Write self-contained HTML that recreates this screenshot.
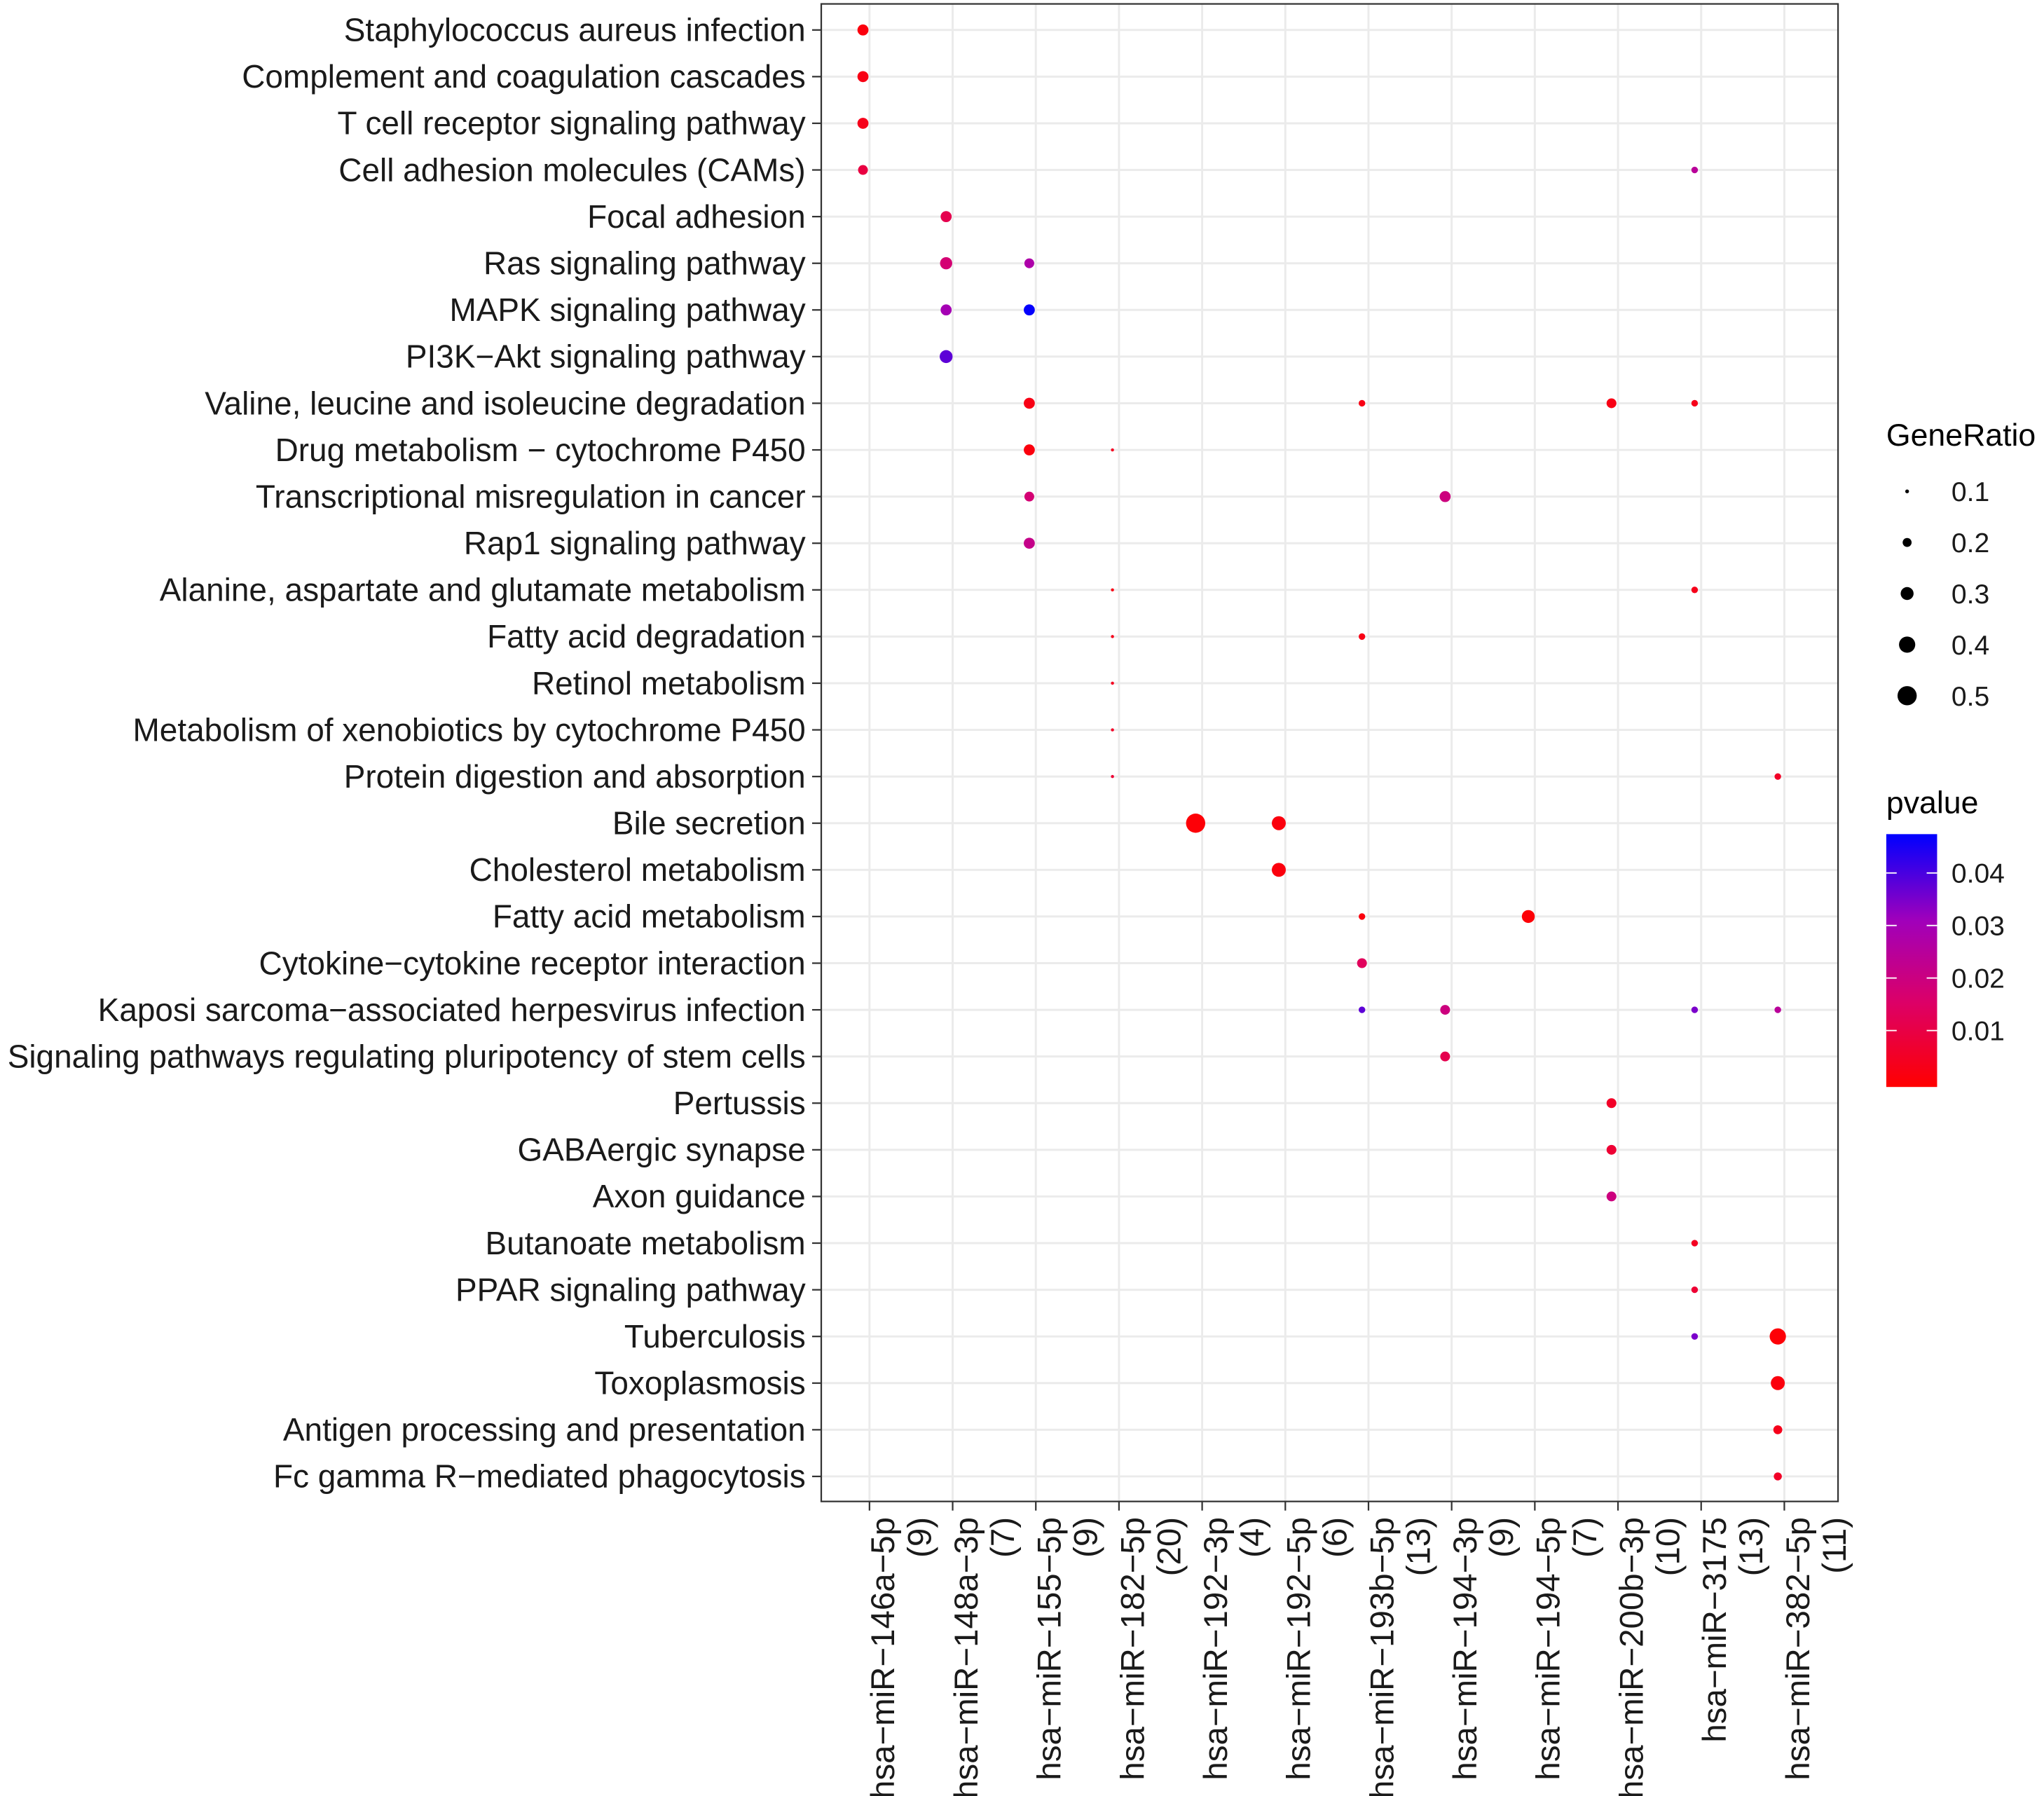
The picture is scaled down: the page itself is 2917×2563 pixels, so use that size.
<!DOCTYPE html>
<html><head><meta charset="utf-8"><style>
html,body{margin:0;padding:0;background:#fff;}
svg{display:block;font-family:"Liberation Sans",Arial,sans-serif;}
</style></head><body>
<svg id="chart" width="2917" height="2563" viewBox="0 0 1568 1378" preserveAspectRatio="none" xmlns="http://www.w3.org/2000/svg">
<rect x="0" y="0" width="1568" height="1378" fill="#fff"/>
<g id="grid"></g><g id="dots"></g>
<rect x="630" y="3" width="780" height="1149" fill="none" stroke="#333" stroke-width="1.2"/>
<g id="yaxis"></g><g id="xaxis"></g>
<g id="legend">
 <text x="1447" y="342" font-size="24">GeneRatio</text>
 <g id="sizeleg"></g>
 <text x="1447" y="624" font-size="24">pvalue</text>
 <defs><linearGradient id="pg" x1="0" y1="1" x2="0" y2="0">
  <stop offset="0" stop-color="#FF0000"/><stop offset="0.33" stop-color="#DD0066"/>
  <stop offset="0.66" stop-color="#A000BB"/><stop offset="1" stop-color="#0000FF"/></linearGradient></defs>
 <rect x="1447" y="640" width="39" height="194" fill="url(#pg)"/>
 <g id="colorleg"></g>
</g>
</svg>
<script>
const categories=["Staphylococcus aureus infection","Complement and coagulation cascades","T cell receptor signaling pathway","Cell adhesion molecules (CAMs)","Focal adhesion","Ras signaling pathway","MAPK signaling pathway","PI3K\u2212Akt signaling pathway","Valine, leucine and isoleucine degradation","Drug metabolism \u2212 cytochrome P450","Transcriptional misregulation in cancer","Rap1 signaling pathway","Alanine, aspartate and glutamate metabolism","Fatty acid degradation","Retinol metabolism","Metabolism of xenobiotics by cytochrome P450","Protein digestion and absorption","Bile secretion","Cholesterol metabolism","Fatty acid metabolism","Cytokine\u2212cytokine receptor interaction","Kaposi sarcoma\u2212associated herpesvirus infection","Signaling pathways regulating pluripotency of stem cells","Pertussis","GABAergic synapse","Axon guidance","Butanoate metabolism","PPAR signaling pathway","Tuberculosis","Toxoplasmosis","Antigen processing and presentation","Fc gamma R\u2212mediated phagocytosis"];
const mirnas=["hsa\u2212miR\u2212146a\u22125p","hsa\u2212miR\u2212148a\u22123p","hsa\u2212miR\u2212155\u22125p","hsa\u2212miR\u2212182\u22125p","hsa\u2212miR\u2212192\u22123p","hsa\u2212miR\u2212192\u22125p","hsa\u2212miR\u2212193b\u22125p","hsa\u2212miR\u2212194\u22123p","hsa\u2212miR\u2212194\u22125p","hsa\u2212miR\u2212200b\u22123p","hsa\u2212miR\u22123175","hsa\u2212miR\u2212382\u22125p"];
const counts=["(9)","(7)","(9)","(20)","(4)","(6)","(13)","(9)","(7)","(10)","(13)","(11)"];
const ptRow=[0,1,2,3,3,4,5,5,6,6,7,8,8,8,8,9,9,10,10,11,12,12,13,13,14,15,16,16,17,17,18,19,19,20,21,21,21,21,22,23,24,25,26,27,28,28,29,30,31];
const ptCol=[0,0,0,0,10,1,1,2,1,2,1,2,6,9,10,2,3,2,7,2,3,10,3,6,3,3,3,11,4,5,5,6,8,6,6,7,10,11,7,9,9,9,10,10,10,11,11,11,11];
const ptRatio=[0.25,0.25,0.25,0.22,0.15,0.25,0.28,0.22,0.25,0.25,0.3,0.25,0.15,0.22,0.15,0.25,0.07,0.22,0.25,0.25,0.07,0.15,0.07,0.15,0.07,0.07,0.06,0.15,0.5,0.33,0.33,0.15,0.3,0.22,0.15,0.22,0.15,0.15,0.22,0.22,0.22,0.22,0.15,0.15,0.15,0.4,0.33,0.2,0.18];
const ptP=[0.002,0.003,0.004,0.01,0.025,0.012,0.018,0.028,0.03,0.047,0.038,0.003,0.003,0.003,0.004,0.002,0.005,0.018,0.02,0.022,0.003,0.004,0.004,0.003,0.005,0.006,0.008,0.006,0.001,0.002,0.002,0.002,0.001,0.014,0.038,0.02,0.035,0.025,0.012,0.006,0.008,0.02,0.005,0.008,0.035,0.001,0.002,0.004,0.006];
const sizeTicks=[0.1,0.2,0.3,0.4,0.5];
const pTicks=[0.01,0.02,0.03,0.04];
const NS="http://www.w3.org/2000/svg";
const yPos=i=>23+i*35.8;
const xPos=j=>667+j*63.8;
const rScale=v=>Math.max(1.2,1.15*(13.2*Math.sqrt(v)-2.92));
const pY=p=>831-p/0.01*40.3;
const pMax=0.0474;
const stops=[[0,[255,0,0]],[0.33,[221,0,102]],[0.66,[160,0,187]],[1,[0,0,255]]];
function pColor(p){let t=Math.min(1,Math.max(0,p/pMax));for(let k=1;k<stops.length;k++){if(t<=stops[k][0]){const a=stops[k-1],b=stops[k];const f=(t-a[0])/(b[0]-a[0]);const c=a[1].map((v,i)=>Math.round(v+(b[1][i]-v)*f));return `rgb(${c})`;}}return "rgb(0,0,255)";}
function mk(tag,attrs,parent,txt){const e=document.createElementNS(NS,tag);for(const k in attrs)e.setAttribute(k,attrs[k]);if(txt!==undefined)e.textContent=txt;parent.appendChild(e);return e;}
const grid=document.getElementById('grid'),dots=document.getElementById('dots'),ya=document.getElementById('yaxis'),xa=document.getElementById('xaxis');
categories.forEach((c,i)=>{
 const y=yPos(i);
 const g=mk('line',{x1:630,x2:1410,y1:y,y2:y,stroke:'#EBEBEB','stroke-width':1.6},grid);
 
 
 const t=mk('line',{x1:623,x2:630,y1:y,y2:y,stroke:'#333','stroke-width':1.2},ya);
 
 
 const l=mk('text',{x:618,y:y+8.5,'text-anchor':'end','font-size':24.7,fill:'#1a1a1a'},ya,c);
 
 
});
mirnas.forEach((m,j)=>{
 const x=xPos(j);
 const g=mk('line',{x1:x,x2:x,y1:3,y2:1152,stroke:'#EBEBEB','stroke-width':1.6},grid);
 
 
 const t=mk('line',{x1:x,x2:x,y1:1152,y2:1159,stroke:'#333','stroke-width':1.2},xa);
 
 
 const l=mk('text',{x:0,y:0,'text-anchor':'end','font-size':25.5,fill:'#1a1a1a',transform:`translate(${x+19},1164) rotate(-90)`},xa,m);
 
 
 const l2=mk('text',{x:0,y:0,'text-anchor':'end','font-size':25.5,fill:'#1a1a1a',transform:`translate(${x+47},1164) rotate(-90)`},xa,counts[j]);
 
 
});
ptRow.forEach((r,k)=>{
 const d=mk('circle',{cx:xPos(ptCol[k])-5,cy:yPos(r),r:rScale(ptRatio[k]),fill:pColor(ptP[k])},dots);
 
 
});
const sl=document.getElementById('sizeleg');
sizeTicks.forEach((v,i)=>{
 const y=377+i*39.2;
 const d=mk('circle',{cx:1463,cy:y,r:rScale(v),fill:'#000'},sl);
 
 
 const t=mk('text',{x:1497,y:y+7.5,'font-size':21,fill:'#1a1a1a'},sl,v.toFixed(1));
 
 
});
const cl=document.getElementById('colorleg');
pTicks.forEach(p=>{
 const y=pY(p);
 mk('line',{x1:1447,x2:1455,y1:y,y2:y,stroke:'#fff','stroke-width':1},cl);
 mk('line',{x1:1478,x2:1486,y1:y,y2:y,stroke:'#fff','stroke-width':1},cl);
 const t=mk('text',{x:1497,y:y+7.5,'font-size':21,fill:'#1a1a1a'},cl,p.toFixed(2));
 
 
});
</script>
</body></html>
